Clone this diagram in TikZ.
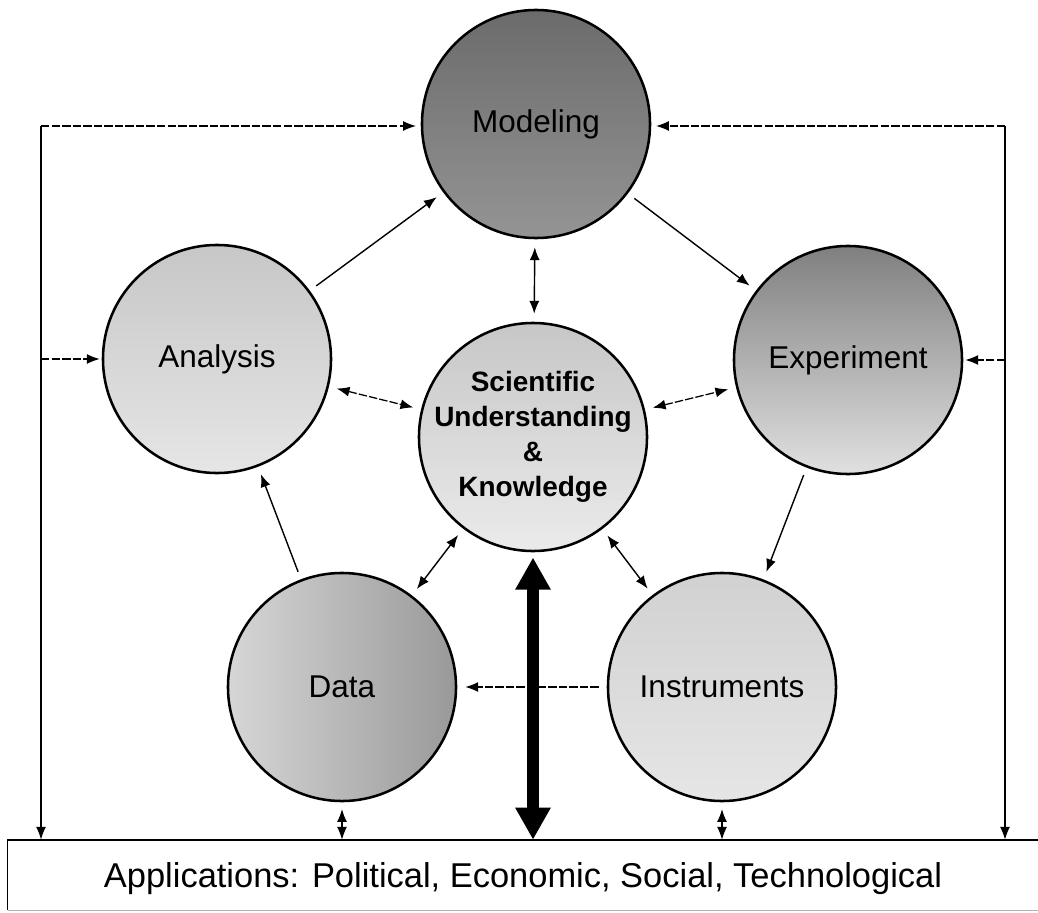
\documentclass[tikz,border=0pt]{standalone}
\usepackage{fontspec}
\setmainfont{Liberation Sans}
\usetikzlibrary{arrows.meta,calc,positioning}

\begin{document}
\begin{tikzpicture}[x=0.025cm,y=-0.025cm,
		>={Latex[length=0.32cm,width=0.25cm]},
		bubble/.style={circle,draw,line width=1.8pt,minimum size=5.7cm,inner sep=0pt,font=\fontsize{22.4pt}{26pt}\selectfont},
		link/.style={line width=1pt,->,shorten <=0.2cm,shorten >=0.2cm},
		faint/.style={line width=0.9pt,dash pattern=on 6pt off 1.5pt},
		frame/.style={line width=1pt,->},
		bigarrow/.style={line width=9pt,arrows={Triangle[length=0.8cm,width=0.83cm]-Triangle[length=0.8cm,width=0.83cm]}}]
		\useasboundingbox (0,0) rectangle (1038,913);
		\node[bubble,top color=black!58,bottom color=black!42] (mod) at (536,124) {Modeling};
		\node[bubble,top color=black!22,middle color=black!40,bottom color=black!10] (ana) at (217,359) {Analysis};
		\node[bubble,top color=black!50,middle color=black!32,bottom color=black!12] (exp) at (848,360) {Experiment};
		\node[bubble,top color=black!22,bottom color=black!8,label={[align=center,font=\bfseries\fontsize{19.9pt}{24.9pt}\selectfont]center:Scientific\\Understanding\\\&\\Knowledge}] (cen) at (533,437) {};
		\node[bubble,left color=black!16,right color=black!40] (dat) at (342,687) {Data};
		\node[bubble,top color=black!18,bottom color=black!10] (ins) at (722,687) {Instruments};
		\node[minimum width=25.75cm,minimum height=1.75cm,inner sep=0pt,text depth=0pt,font=\fontsize{24.5pt}{28pt}\selectfont] (box) at (523,875) {Applications: Political, Economic, Social, Technological};
		\draw[line width=1.2pt] (box.north east) -- (box.north west) -- (box.south west);
		\draw[black!30,line width=0.6pt] (box.south west) -- (box.south east);
		\coordinate (tl) at (41,126);
		\coordinate (tr) at (1005,126);
		\draw[link] (ana) -- (mod);
		\draw[link] (mod) -- (exp);
		\draw[link,<->] (mod) -- (cen);
		\draw[link,<->,faint] (ana) -- (cen);
		\draw[link,<->,faint] (cen) -- (exp);
		\draw[link] (exp) -- (ins);
		\draw[link] (dat) -- (ana);
		\draw[link,<->] (dat) -- (cen);
		\draw[link,<->] (cen) -- (ins);
		\draw[link,faint] (ins) -- (dat);
		\draw[frame] (tl) -- (tl |- box.north);
		\draw[frame] (tr) -- (tr |- box.north);
		\draw[frame,faint,shorten >=0.12cm] (tl) -- (tl -| mod.west);
		\draw[frame,faint,shorten >=0.12cm] (tr) -- (tr -| mod.east);
		\draw[frame,faint,shorten >=0.05cm] (tl |- ana.west) -- (ana.west);
		\draw[frame,faint,shorten >=0.05cm] (tr |- exp.east) -- (exp.east);
		\draw[link,<->,faint,shorten <=0.17cm,shorten >=0pt] (dat.south) -- (dat.south |- box.north);
		\draw[link,<->,faint,shorten <=0.17cm,shorten >=0pt] (ins.south) -- (ins.south |- box.north);
		\draw[bigarrow,shorten <=0.13cm] (cen.south) -- (cen.south |- box.north);
		\end{tikzpicture}
\end{document}
